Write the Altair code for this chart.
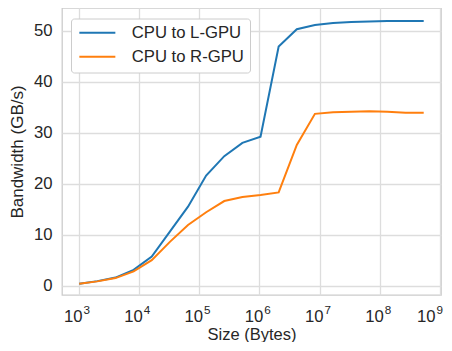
import altair as alt
import pandas as pd

sizes = [1024, 2048, 4096, 8192, 16384, 32768, 65536, 131072, 262144, 524288,
         1048576, 2097152, 4194304, 8388608, 16777216, 33554432, 67108864,
         134217728, 268435456, 536870912]
l_gpu = [0.4, 0.9, 1.6, 3.1, 5.7, 10.6, 15.5, 21.6, 25.4, 28.0,
         29.2, 46.9, 50.3, 51.1, 51.5, 51.7, 51.8, 51.9, 51.9, 51.9]
r_gpu = [0.4, 0.85, 1.5, 2.8, 5.0, 8.6, 11.9, 14.4, 16.6, 17.4,
         17.8, 18.3, 27.6, 33.7, 34.0, 34.1, 34.2, 34.1, 33.9, 33.9]
series = ["CPU to L-GPU", "CPU to R-GPU"]
colors = ["#1f77b4", "#ff7f0e"]
x_ticks = [1e3, 1e4, 1e5, 1e6, 1e7, 1e8, 1e9]
x_exps = ["3", "4", "5", "6", "7", "8", "9"]
y_ticks = [0, 10, 20, 30, 40, 50]

df = pd.concat([
    pd.DataFrame({"size": sizes, "bw": l_gpu, "series": series[0]}),
    pd.DataFrame({"size": sizes, "bw": r_gpu, "series": series[1]}),
])
ticks_df = pd.DataFrame({"v": x_ticks[:-1], "e": x_exps[:-1]})
last_df = pd.DataFrame({"v": x_ticks[-1:], "e": x_exps[-1:]})

font = "Liberation Sans"
txt = "#262626"
FS = 16.7

xscale = alt.Scale(type="log", domain=[530, 1.04e9], nice=False)

lines = alt.Chart(df).mark_line(strokeWidth=2, clip=True).encode(
    x=alt.X("size:Q", scale=xscale,
            axis=alt.Axis(values=x_ticks, title="Size (Bytes)", labels=False,
                          titlePadding=31, titleFontSize=16.5)),
    y=alt.Y("bw:Q",
            scale=alt.Scale(domain=[-1.82, 54.45], nice=False, zero=False),
            axis=alt.Axis(values=y_ticks, title="Bandwidth (GB/s)",
                          labelPadding=10, titlePadding=7)),
    color=alt.Color("series:N",
                    scale=alt.Scale(domain=series, range=colors),
                    legend=alt.Legend(title=None, orient="none", legendX=9, legendY=10.5,
                                      symbolType="M-1,0L5,0", symbolSize=144,
                                      symbolStrokeWidth=2, labelFontSize=FS,
                                      labelFont=font, labelColor=txt,
                                      fillColor="white", strokeColor="#cccccc",
                                      cornerRadius=3, padding=6, rowPadding=6,
                                      labelOffset=38)),
    order=alt.Order("size:Q"),
)


def tick_labels(data, dx_tens, dx_exp):
    b = alt.Chart(data).encode(x=alt.X("v:Q", scale=xscale))
    t = b.mark_text(align="right", baseline="alphabetic", dx=dx_tens,
                    font=font, fontSize=FS, color=txt).encode(
        y=alt.value(314), text=alt.value("10"))
    e = b.mark_text(align="left", baseline="alphabetic", dx=dx_exp,
                    font=font, fontSize=11.7, color=txt).encode(
        y=alt.value(305.7), text="e:N")
    return [t, e]


layers = [lines] + tick_labels(ticks_df, 4, 5) + tick_labels(last_df, -4.5, -3.5)

chart = alt.layer(*layers).properties(
    width=379, height=287,
    autosize=alt.AutoSizeParams(type="none"),
    padding={"left": 54, "top": 0, "right": 3, "bottom": 47},
).configure_view(
    stroke="#cccccc", strokeWidth=1.3
).configure_axis(
    grid=True, gridColor="#dddddd", gridWidth=1.3,
    domain=False, ticks=False,
    labelFont=font, labelFontSize=FS, labelColor=txt,
    titleFont=font, titleFontSize=17, titleColor=txt, titleFontWeight="normal",
)

chart.save("out.html", embed_options={"renderer": "svg", "actions": False})
